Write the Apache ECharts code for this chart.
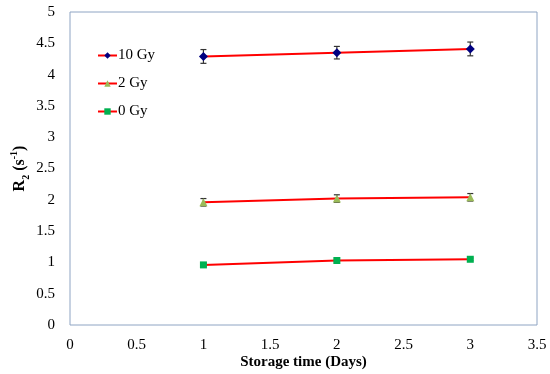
<!DOCTYPE html>
<html>
<head>
<meta charset="utf-8">
<script src="https://cdn.jsdelivr.net/npm/echarts@6/dist/echarts.min.js"></script>
<style>html,body{margin:0;padding:0;background:#fff}#c{width:550px;height:374px}</style>
</head>
<body>
<div id="c"></div>
<script>
var days = [1, 2, 3];
var seriesNames = ['10 Gy', '2 Gy', '0 Gy'];
var r2_10Gy = [4.29, 4.35, 4.41];
var err_10Gy = [0.11, 0.10, 0.11];
var r2_2Gy = [1.96, 2.02, 2.04];
var err_2Gy = [0.06, 0.06, 0.06];
var r2_0Gy = [0.96, 1.03, 1.05];
var err_0Gy = [0.02, 0.02, 0.02];
var xTicks = [0, 0.5, 1, 1.5, 2, 2.5, 3, 3.5];
var yTicks = [0, 0.5, 1, 1.5, 2, 2.5, 3, 3.5, 4, 4.5, 5];

var FONT = '"Liberation Serif", "Times New Roman", serif';

function pts(vals) { return days.map(function (d, i) { return [d, vals[i]]; }); }
function errData(vals, errs) { return days.map(function (d, i) { return [d, vals[i] - errs[i], vals[i] + errs[i]]; }); }

function errRender(params, api) {
  var x = api.value(0);
  var lo = api.coord([x, api.value(1)]);
  var hi = api.coord([x, api.value(2)]);
  var w = 3;
  var st = { stroke: '#333', lineWidth: 1.2 };
  return {
    type: 'group',
    children: [
      { type: 'line', shape: { x1: lo[0], y1: lo[1], x2: hi[0], y2: hi[1] }, style: st },
      { type: 'line', shape: { x1: lo[0] - w, y1: lo[1], x2: lo[0] + w, y2: lo[1] }, style: st },
      { type: 'line', shape: { x1: hi[0] - w, y1: hi[1], x2: hi[0] + w, y2: hi[1] }, style: st }
    ]
  };
}

function lineSeries(name, vals, symbol, color, size) {
  return {
    name: name, type: 'line', data: pts(vals), z: 3,
    symbol: symbol, symbolSize: size,
    itemStyle: { color: color },
    lineStyle: { color: '#ff0000', width: 2 },
    emphasis: { disabled: true }
  };
}
function errSeries(vals, errs) {
  return { type: 'custom', data: errData(vals, errs), renderItem: errRender, z: 2, silent: true };
}

var chart = echarts.init(document.getElementById('c'));
chart.setOption({
  animation: false,
  backgroundColor: '#fff',
  grid: { left: 70, right: 13, top: 12, bottom: 49, show: true, borderColor: '#8ea4c3', borderWidth: 1,
    containLabel: false, outerBoundsMode: 'none' },
  legend: {
    orient: 'vertical', left: 92, top: 43, itemWidth: 19, itemHeight: 8, itemGap: 13,
    data: seriesNames,
    textStyle: { fontFamily: FONT, fontSize: 15, color: '#000', padding: [0, 0, 0, -4] }
  },
  xAxis: {
    type: 'value', min: 0, max: 3.5, interval: 0.5,
    name: 'Storage time (Days)', nameLocation: 'middle', nameGap: 30, nameMoveOverlap: false,
    nameTextStyle: { fontFamily: FONT, fontSize: 15, fontWeight: 'bold', color: '#000' },
    axisLine: { show: false }, axisTick: { show: false }, splitLine: { show: false },
    axisLabel: { fontFamily: FONT, fontSize: 15, color: '#000', margin: 13,
      formatter: function (v) { return xTicks.indexOf(v) >= 0 ? String(v) : ''; } }
  },
  yAxis: {
    type: 'value', min: 0, max: 5, interval: 0.5,
    name: '{a|R}{s|2}{a| (s}{p|-1}{a|)}', nameLocation: 'middle', nameGap: 39, nameMoveOverlap: false,
    nameTextStyle: {
      rich: {
        a: { fontFamily: FONT, fontSize: 16, fontWeight: 'bold', color: '#000', lineHeight: 22 },
        s: { fontFamily: FONT, fontSize: 10, fontWeight: 'bold', color: '#000', lineHeight: 22, verticalAlign: 'bottom', padding: [6, 0, 0, 0] },
        p: { fontFamily: FONT, fontSize: 10, fontWeight: 'bold', color: '#000', lineHeight: 22, verticalAlign: 'top', padding: [0, 0, 6, 0] }
      }
    },
    axisLine: { show: false }, axisTick: { show: false }, splitLine: { show: false },
    axisLabel: { fontFamily: FONT, fontSize: 15, color: '#000', margin: 15,
      formatter: function (v) { return yTicks.indexOf(v) >= 0 ? String(v) : ''; } }
  },
  series: [
    errSeries(r2_10Gy, err_10Gy),
    errSeries(r2_2Gy, err_2Gy),
    errSeries(r2_0Gy, err_0Gy),
    lineSeries('10 Gy', r2_10Gy, 'diamond', '#000080', 9),
    lineSeries('2 Gy', r2_2Gy, 'triangle', '#9bbb59', 8),
    lineSeries('0 Gy', r2_0Gy, 'rect', '#00b050', 7)
  ]
});
</script>
</body>
</html>
